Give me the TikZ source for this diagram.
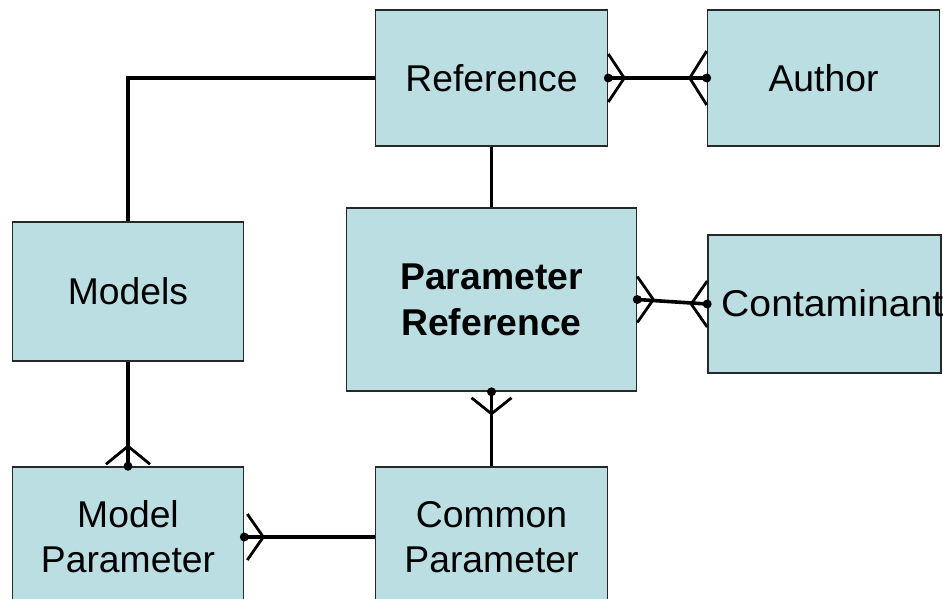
\documentclass[tikz,border=0pt]{standalone}
\usepackage{fontspec}
\setmainfont{Liberation Sans}
\definecolor{entityfill}{RGB}{186,222,226}
\definecolor{entityedge}{RGB}{40,40,40}
\begin{document}
\begin{tikzpicture}[x=1pt,y=-1pt,
  entity/.style={draw=entityedge, line width=1.6pt, fill=entityfill, rectangle,
    inner sep=0pt, align=center, font=\fontsize{37.3}{45}\selectfont},
  link/.style={line width=3.6pt, black},
  toe/.style={line width=2.8pt, black, line join=miter},
  label/.style={inner sep=0pt, font=\fontsize{37.3}{45}\selectfont}]
\useasboundingbox (0,0) rectangle (943,598);
\clip (0,0) rectangle (943,598);

% entities
\node[entity, minimum width=232pt, minimum height=136pt] (ref) at (491.5,78) {Reference};
\node[entity, minimum width=232pt, minimum height=136pt] (auth) at (823.5,78) {Author};
\node[entity, minimum width=231pt, minimum height=139pt] (models) at (128,291.5) {Models};
\node[entity, minimum width=290pt, minimum height=183pt,
      font=\fontsize{37.3}{46}\selectfont\bfseries] (pr) at (491.5,299.5) {Parameter\\Reference};
\node[entity, minimum width=233pt, minimum height=138pt] (cont) at (824.5,304) {};
\node[label, anchor=west, xscale=1.05] (contlabel) at (721,303) {Contaminant};
\node[entity, minimum width=231pt, minimum height=140pt] (mp) at (128,537) {Model\\Parameter};
\node[entity, minimum width=232pt, minimum height=140pt] (cp) at (491.5,537) {Common\\Parameter};

% relationships
\draw[link] (ref.west) -| (models.north);
\draw[link] (ref.south) -- (pr.north);
\draw[link] (ref.east) -- (auth.west);
\draw[link] (pr.east) -- (cont.west);
\draw[link] (pr.south) -- (cp.north);
\draw[link] (models.south) -- (mp.north);
\draw[link] (cp.west) -- (mp.east);

% crow's feet (many ends)
\draw[toe] ([yshift=24pt]ref.east) -- ([xshift=16pt]ref.east) -- ([yshift=-24pt]ref.east);
\draw[toe] ([yshift=27pt]auth.west) -- ([xshift=-17pt]auth.west) -- ([yshift=-27pt]auth.west);
\draw[toe] ([yshift=23pt]pr.east) -- ([xshift=16pt]pr.east) -- ([yshift=-23pt]pr.east);
\draw[toe] ([yshift=23pt]cont.west) -- ([xshift=-16pt]cont.west) -- ([yshift=-23pt]cont.west);
\draw[toe] ([xshift=-20pt,yshift=-6pt]pr.south) -- ([yshift=-22pt]pr.south) -- ([xshift=20pt,yshift=-6pt]pr.south);
\draw[toe] ([xshift=-22pt,yshift=2pt]mp.north) -- ([yshift=20pt]mp.north) -- ([xshift=22pt,yshift=2pt]mp.north);
\draw[toe] ([xshift=3pt,yshift=23pt]mp.east) -- ([xshift=19pt]mp.east) -- ([xshift=3pt,yshift=-23pt]mp.east);

% end dots
\foreach \p in {ref.east, auth.west, pr.east, cont.west, pr.south, mp.north, mp.east}
  \fill[black] (\p) circle[radius=4.5pt];
\end{tikzpicture}
\end{document}
